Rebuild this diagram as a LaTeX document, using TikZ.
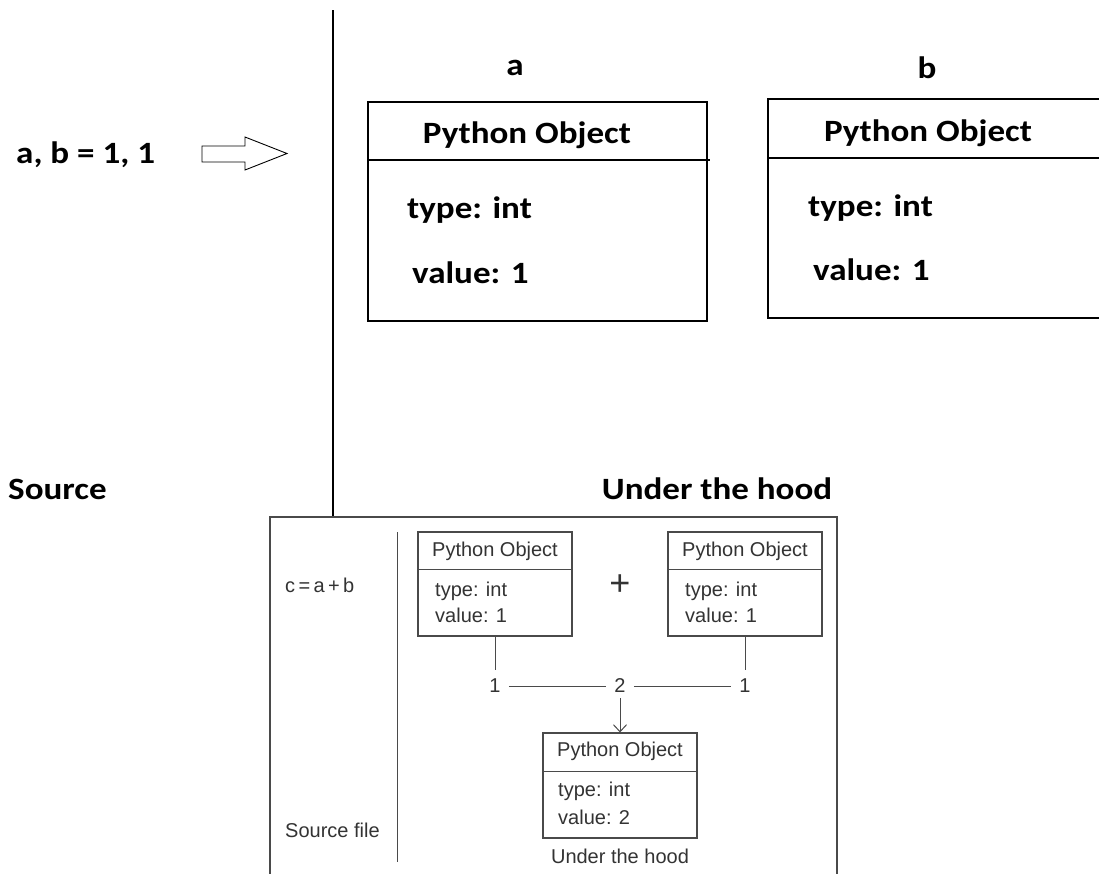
\documentclass[tikz,border=0pt]{standalone}
\usepackage{fontspec}
\usetikzlibrary{arrows.meta}
\newfontfamily\calfont{Carlito}
\newfontfamily\insetfont{Liberation Sans}
\newcommand\stretchx[1]{\scalebox{1.13}[1]{#1}}
\definecolor{inkgray}{HTML}{333333}
\definecolor{linegray}{HTML}{4A4A4A}
\tikzset{
  bigtxt/.style={font=\calfont\bfseries\fontsize{31}{36}\selectfont, inner sep=0pt, text=black},
  bigbox/.style={draw=black, line width=1.5pt, inner sep=0pt},
  smalltxt/.style={font=\insetfont\fontsize{20}{24}\selectfont, inner sep=0pt, text=inkgray},
  smallbox/.style={draw=linegray, line width=1.1pt, inner sep=0pt},
  thinline/.style={draw=linegray, line width=1pt},
}
\begin{document}
\begin{tikzpicture}[x=1pt,y=-1pt]
\useasboundingbox (0,0) rectangle (1099,873);
\clip (0,0) rectangle (1099,873);
\fill[white] (0,0) rectangle (1099,873);

% ---------- top part ----------
\node[bigtxt, anchor=west] (src) at (16,155) {\stretchx{a, b = 1, 1}};
% block arrow
\draw[line width=0.9pt] (202,146) -- (245,146) -- (245,137) -- (287,153.5) -- (245,170) -- (245,162) -- (202,162) -- cycle;

% divider
\coordinate (divtop) at (333,10);
\coordinate (divbot) at (333,517);
\draw[line width=1.4pt] (divtop) -- (divbot);

% variable names
\node[bigtxt] (na) at (515,68) {\stretchx{a}};
\node[bigtxt] (nb) at (927,68) {\stretchx{b}};

% box a
\node[bigbox, minimum width=339pt, minimum height=219pt] (boxa) at (537.5,211.5) {};
\draw[line width=1.5pt] (boxa.west |- 0,160) -- (710,160);
\node[bigtxt] (poa) at (527,135) {\stretchx{Python Object}};
\node[bigtxt, anchor=west] (ta) at (407,210) {\stretchx{type: int}};
\node[bigtxt, anchor=west] (va) at (412,273) {\stretchx{value: 1}};

% box b
\node[bigbox, minimum width=342pt, minimum height=219pt] (boxb) at (939,208.5) {};
\draw[line width=1.5pt] (boxb.west |- 0,158) -- (1110,158);
\node[bigtxt] (pob) at (928,133) {\stretchx{Python Object}};
\node[bigtxt, anchor=west] (tb) at (808,208) {\stretchx{type: int}};
\node[bigtxt, anchor=west] (vb) at (813,270) {\stretchx{value: 1}};

% section labels
\node[bigtxt, anchor=west] (lsrc) at (8,489) {\stretchx{Source}};
\node[bigtxt] (lhood) at (717,489) {\stretchx{Under the hood}};

% ---------- inset ----------
\draw[linegray, line width=1.2pt] (270,880) -- (270,517) -- (837,517) -- (837,880);
\draw[thinline] (397,532) -- (397,862);

\node[smalltxt, anchor=west] (cab) at (285,585) {c\,=\,a\,+\,b};
\node[smalltxt, anchor=west] (sfile) at (285,830) {Source file};

% box 1
\node[smallbox, minimum width=154pt, minimum height=104pt] (b1) at (495,584) {};
\draw[thinline] (b1.west |- 0,569) -- (b1.east |- 0,569);
\node[smalltxt] (p1) at (495,551) {Python Object};
\node[smalltxt, anchor=west] (t1) at (435,591) {type: int};
\node[smalltxt, anchor=west] (v1) at (435,615) {value: 1};

% box 2
\node[smallbox, minimum width=154pt, minimum height=104pt] (b2) at (745,584) {};
\draw[thinline] (b2.west |- 0,569) -- (b2.east |- 0,569);
\node[smalltxt] (p2) at (745,551) {Python Object};
\node[smalltxt, anchor=west] (t2) at (685,591) {type: int};
\node[smalltxt, anchor=west] (v2) at (685,615) {value: 1};

% plus
\node[smalltxt, font=\insetfont\fontsize{36}{38}\selectfont] (plus) at (620,585) {+};

% numbers
\node[smalltxt, inner sep=8pt] (n1) at (495,686) {1};
\node[smalltxt, inner sep=8pt] (n2) at (620,686) {2};
\node[smalltxt, inner sep=8pt] (n3) at (745,686) {1};
\draw[thinline] (b1.south) -- (b1.south |- 0,670);
\draw[thinline] (b2.south) -- (b2.south |- 0,670);
\draw[thinline] (n1.east) -- (n2.west);
\draw[thinline] (n2.east) -- (n3.west);

% box 3
\node[smallbox, minimum width=154pt, minimum height=105pt] (b3) at (620,785.5) {};
\draw[thinline] (b3.west |- 0,771) -- (b3.east |- 0,771);
\node[smalltxt] (p3) at (620,751) {Python Object};
\node[smalltxt, anchor=west] (t3) at (558,791) {type: int};
\node[smalltxt, anchor=west] (v3) at (558,817) {value: 2};
\draw[thinline, -{Straight Barb[length=7pt,width=13pt]}] (620,698) -- (b3.north);

\node[smalltxt] (uth) at (620,856) {Under the hood};
\end{tikzpicture}
\end{document}
